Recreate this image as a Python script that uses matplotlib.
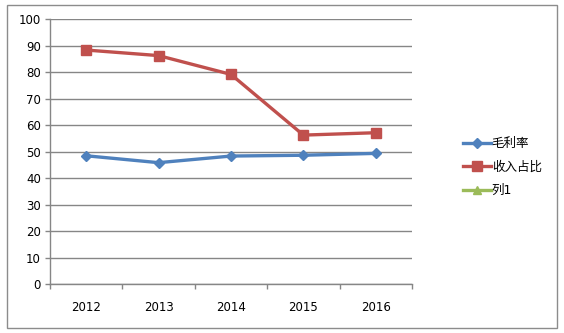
import matplotlib
matplotlib.use("Agg")
import matplotlib.pyplot as plt
from matplotlib.patches import Rectangle
from matplotlib.ticker import FixedLocator

plt.rcParams['font.family'] = ['DejaVu Sans', 'Noto Sans CJK SC']

years = ['2012', '2013', '2014', '2015', '2016']
gross_margin = [48.5, 45.9, 48.4, 48.7, 49.4]
revenue_share = [88.4, 86.3, 79.2, 56.3, 57.2]
col1 = [None, None, None, None, None]
series_names = ['毛利率', '收入占比', '列1']

fig = plt.figure(figsize=(5.64, 3.33), dpi=100)
fig.patches.append(Rectangle((7 / 564, 5 / 333), 550 / 564, 323 / 333,
                             transform=fig.transFigure, fill=False,
                             edgecolor='#8c8c8c', linewidth=1.0))

ax = fig.add_axes([50 / 564, 1 - 284.3 / 333, 362 / 564, 265 / 333])
x = list(range(len(years)))

ax.plot(x, gross_margin, color='#4F81BD', lw=2.4, marker='D', ms=5.5,
        label=series_names[0])
ax.plot(x, revenue_share, color='#C0504D', lw=2.4, marker='s', ms=7,
        label=series_names[1])
ax.plot(x, [float('nan') if v is None else v for v in col1], color='#9BBB59',
        lw=2.4, marker='^', ms=6, label=series_names[2])

ax.set_xlim(-0.5, len(years) - 0.5)
ax.set_ylim(0, 100)
ax.set_yticks(range(0, 101, 10))
ax.set_xticks(x)
ax.set_xticklabels(years)
ax.xaxis.set_minor_locator(FixedLocator([i - 0.5 for i in range(len(years) + 1)]))
ax.tick_params(axis='x', which='major', length=0, pad=12, labelsize=8.5)
ax.tick_params(axis='x', which='minor', length=3.5, color='#868686', width=1)
ax.tick_params(axis='y', length=3.5, color='#868686', width=1, labelsize=8.5, pad=3)

ax.yaxis.grid(True, color='#868686', linewidth=1)
ax.set_axisbelow(True)
for s in ['top', 'right']:
    ax.spines[s].set_visible(False)
for s in ['left', 'bottom']:
    ax.spines[s].set_color('#868686')
    ax.spines[s].set_linewidth(1)

fig.legend(loc='upper left', bbox_to_anchor=(458 / 564, 1 - 132 / 333),
           frameon=False, fontsize=9, handlelength=2.2, labelspacing=0.85,
           handletextpad=0.1, borderaxespad=0)

fig.savefig('out.png', dpi=100)
